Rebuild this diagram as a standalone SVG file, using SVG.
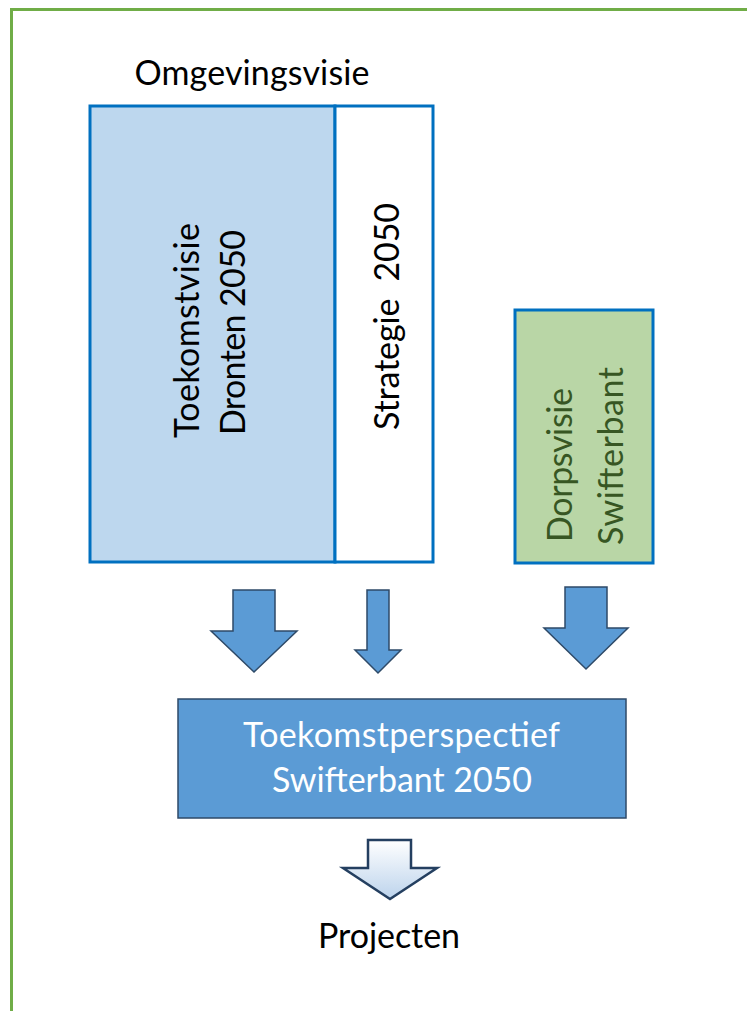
<svg xmlns="http://www.w3.org/2000/svg" width="747" height="1011" viewBox="0 0 747 1011">
<style>
.t{font-family:Lato,"Open Sans","Liberation Sans",sans-serif;font-size:34px;text-anchor:middle}
.blk{fill:#000}
.wht{fill:#fff}
.grn{fill:#375623}
.arr{fill:#5b9bd5;stroke:#2e4a68;stroke-width:1.5;stroke-linejoin:miter}
</style>
<defs>
<linearGradient id="g1" x1="0" y1="0" x2="0" y2="1">
<stop offset="0" stop-color="#ffffff"/>
<stop offset="1" stop-color="#bcd3ec"/>
</linearGradient>
</defs>
<rect width="747" height="1011" fill="#fff"/>
<rect x="11.5" y="9.5" width="800" height="1100" fill="none" stroke="#70ad47" stroke-width="3"/>
<g id="title"><text class="t blk" x="252" y="85" textLength="235" lengthAdjust="spacing">Omgevingsvisie</text></g>
<g id="toekomstvisie">
<rect x="90" y="106" width="245" height="456" fill="#bdd7ee" stroke="#0070c0" stroke-width="3"/>
<text class="t blk" transform="translate(199,330.5) rotate(-90)" textLength="215" lengthAdjust="spacing">Toekomstvisie</text>
<text class="t blk" transform="translate(245,332.5) rotate(-90)" textLength="205" lengthAdjust="spacing">Dronten 2050</text>
</g>
<g id="strategie">
<rect x="335" y="106" width="98" height="456" fill="#fff" stroke="#0070c0" stroke-width="3"/>
<text class="t blk" transform="translate(399,316.5) rotate(-90)" textLength="227" lengthAdjust="spacing" xml:space="preserve">Strategie  2050</text>
</g>
<g id="dorpsvisie">
<rect x="515" y="310" width="138" height="253" fill="#b9d6a6" stroke="#0070c0" stroke-width="3"/>
<text class="t grn" transform="translate(572,465) rotate(-90)" textLength="154" lengthAdjust="spacing">Dorpsvisie</text>
<text class="t grn" transform="translate(623,456) rotate(-90)" textLength="178" lengthAdjust="spacing">Swifterbant</text>
</g>
<g id="connectors">
<polygon class="arr" points="233,590 275,590 275,631 297,631 254,672 211,631 233,631"/>
<polygon class="arr" points="367,590 389,590 389,650 401,650 378,673 355,650 367,650"/>
<polygon class="arr" points="565,587 607,587 607,628 628,628 586,669 544,628 565,628"/>
<polygon points="368,840 411,840 411,868 437,868 390,899 343,868 368,868" fill="url(#g1)" stroke="#243f60" stroke-width="2.5"/>
</g>
<g id="perspectief">
<rect x="178" y="699" width="448" height="119" fill="#5b9bd5" stroke="#2e4a68" stroke-width="1.5"/>
<text class="t wht" x="401.5" y="747" textLength="317" lengthAdjust="spacing">Toekomstperspectief</text>
<text class="t wht" x="402" y="792" textLength="260" lengthAdjust="spacing">Swifterbant 2050</text>
</g>
<g id="projecten"><text class="t blk" x="389" y="948" textLength="142" lengthAdjust="spacing">Projecten</text></g>
</svg>
